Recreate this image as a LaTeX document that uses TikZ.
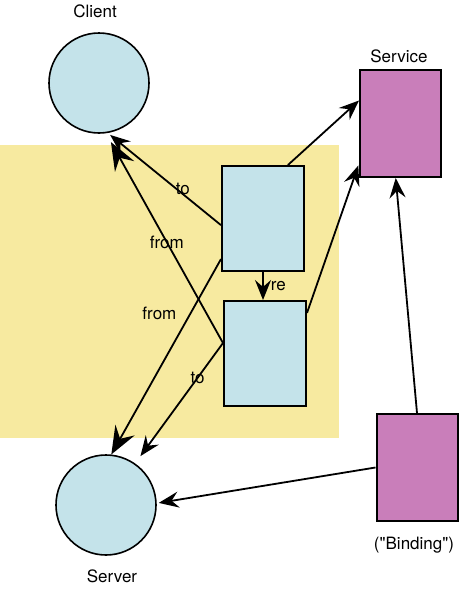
\documentclass[tikz,border=0pt]{standalone}
\usepackage{fontspec}
\setmainfont{TeX Gyre Heros}
\usetikzlibrary{arrows.meta, positioning}

\definecolor{cellblue}{RGB}{196,227,234}
\definecolor{portpink}{RGB}{201,126,186}
\definecolor{zoneyellow}{RGB}{247,234,160}

\tikzset{
	place/.style={circle, draw, line width=1.6pt, fill=cellblue, minimum size=100pt, inner sep=0pt},
	trans/.style={rectangle, draw, line width=2pt, fill=cellblue, minimum width=82pt, minimum height=105pt, inner sep=0pt},
	port/.style={rectangle, draw, line width=2pt, fill=portpink, minimum width=81pt, minimum height=107pt, inner sep=0pt},
	link/.style={line width=1.8pt, -{Stealth[length=20pt, width=16pt, inset=7pt]}},
	biglink/.style={line width=1.8pt, -{Stealth[length=28pt, width=22pt, inset=10pt]}},
	lbl/.style={font=\fontsize{17}{20}\selectfont, inner sep=1pt},
}

\begin{document}
\begin{tikzpicture}[x=1pt, y=-1pt, node distance=6pt]
	\useasboundingbox (0,0) rectangle (467,608);
	% shaded zone
	\fill[zoneyellow] (0,145) rectangle (339,438);

	\node[place] (client) at (99,83) {};
	\node[place] (server) at (106,505) {};
	\node[port] (service) at (400.5,123.5) {};
	\node[port] (binding) at (417,467.5) {};
	\node[trans] (send) at (263,218.5) {};
	\node[trans] (recv) at (265,353.5) {};

	\node[lbl] (clientname) at (95,11) {Client};
	\node[lbl] (servername) at (112,576) {Server};
	\node[lbl] (servicename) at (399,56) {Service};
	\node[lbl] (bindingname) at (414,545) {(\textquotedbl Binding\textquotedbl)};

	\draw[link, shorten >=3pt] (send.189) -- node[lbl, pos=0.39, xshift=6pt] {to} (client.280);
	\draw[biglink, shorten >=10pt] (recv.166) -- node[lbl, pos=0.48] {from} (client.278);
	\draw[biglink] (send.224) -- node[lbl, pos=0.28, left=12pt] {from} (server.84);
	\draw[link, shorten >=9pt] (recv.166) -- node[lbl, pos=0.29] {to} (server.55);
	\draw[link] (send.south) -- node[lbl, right=6pt] {re} (send.south |- recv.north);

	\draw[link] (send.65) -- (service.151);
	\draw[link, shorten >=2pt] (recv.44) -- (service.224);
	\draw[link] (binding.north) -- (service.265);
	\draw[link, shorten >=2pt] (binding.west) -- (server.2);
\end{tikzpicture}
\end{document}
